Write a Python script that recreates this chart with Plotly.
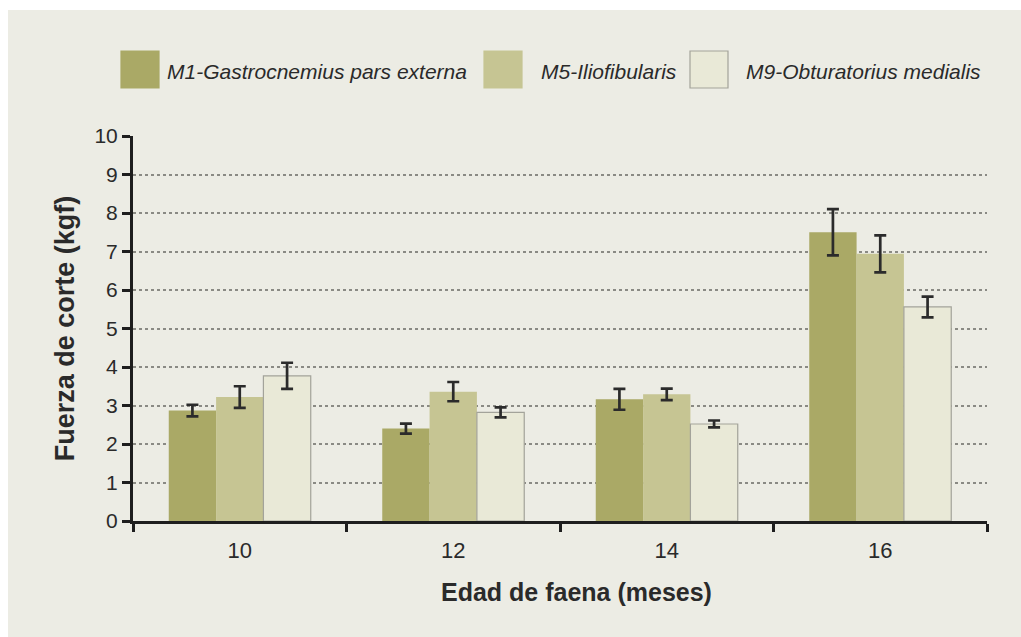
import plotly.graph_objects as go

categories = ["10", "12", "14", "16"]
series_names = ["M1-Gastrocnemius pars externa", "M5-Iliofibularis", "M9-Obturatorius medialis"]
m1_values = [2.87, 2.40, 3.16, 7.50]
m1_errors = [0.15, 0.13, 0.27, 0.60]
m5_values = [3.22, 3.36, 3.29, 6.94]
m5_errors = [0.28, 0.25, 0.15, 0.48]
m9_values = [3.77, 2.82, 2.52, 5.56]
m9_errors = [0.34, 0.13, 0.09, 0.27]
y_ticks = list(range(0, 11))
x_title = "Edad de faena (meses)"
y_title = "Fuerza de corte (kgf)"

colors = ["#aaa966", "#c6c593", "#e9e9d7"]
outline = [None, None, "#a3a39a"]
bg = "#ecece4"
FONT = "Liberation Sans, Arial, sans-serif"

W, H = 1021, 637
L, T = 133, 136
PW, PH = 854, 385
R = W - L - PW
B = H - T - PH

def px(x):
    return (x - L) / PW

def py(y):
    return (T + PH - y) / PH

fig = go.Figure()
for name, vals, errs, c, oc in zip(series_names, [m1_values, m5_values, m9_values],
                                   [m1_errors, m5_errors, m9_errors], colors, outline):
    fig.add_trace(go.Bar(
        x=categories, y=vals, name=name,
        marker=dict(color=c, line=dict(color=oc or c, width=1.2 if oc else 0)),
        error_y=dict(type="data", array=errs, visible=True, color="#2b2b2b",
                     thickness=2.7, width=6),
        showlegend=False,
    ))

shapes = [
    dict(type="rect", xref="paper", yref="paper", x0=px(8), x1=px(W + 5),
         y0=py(H + 5), y1=py(10), fillcolor=bg, line=dict(width=0), layer="below"),
]
annotations = []
legend_items = [(121, 165), (484, 539), (690, 744)]
for (sx, tx), name, c, oc in zip(legend_items, series_names, colors, outline):
    shapes.append(dict(type="rect", xref="paper", yref="paper",
                       x0=px(sx), x1=px(sx + 38), y0=py(88), y1=py(51),
                       fillcolor=c, line=dict(color=oc or c, width=1.2)))
    annotations.append(dict(xref="paper", yref="paper", x=px(tx), y=py(71),
                            xanchor="left", yanchor="middle", showarrow=False,
                            text="<i>" + name + "</i>",
                            font=dict(family=FONT, size=21, color="#2a2a2a")))
annotations.append(dict(xref="paper", yref="paper", x=px(576), y=py(592),
                        xanchor="center", yanchor="middle", showarrow=False,
                        text="<b>" + x_title + "</b>",
                        font=dict(family=FONT, size=25, color="#2a2a2a")))

fig.update_layout(
    width=W, height=H,
    margin=dict(l=L, r=R, t=T, b=B, autoexpand=False),
    paper_bgcolor="white", plot_bgcolor="rgba(0,0,0,0)",
    barmode="group", bargap=0.335, bargroupgap=0,
    shapes=shapes, annotations=annotations,
    font=dict(family=FONT, color="#2a2a2a"),
    xaxis=dict(
        type="category", showline=True, linecolor="#1e1e1e", linewidth=3,
        ticks="outside", tickson="boundaries", ticklen=8, tickwidth=3, tickcolor="#1e1e1e",
        tickfont=dict(size=22, color="#2a2a2a"), showgrid=False, ticklabelstandoff=8,
    ),
    yaxis=dict(
        range=[0, 10], tickvals=y_ticks, showline=True, linecolor="#1e1e1e", linewidth=3,
        ticks="outside", ticklen=8, tickwidth=3, tickcolor="#1e1e1e",
        tickfont=dict(size=21, color="#2a2a2a"),
        showgrid=True, gridcolor="#8a8a84", gridwidth=1.5, griddash="dot",
        zeroline=False,
        title=dict(text="<b>" + y_title + "</b>", font=dict(size=27, color="#2a2a2a"),
                   standoff=12),
    ),
)

fig.write_html(
    "out.html",
    config={"displayModeBar": False},
    post_script=(
        "document.documentElement.style.overflow='hidden';"
        "document.documentElement.style.background='" + bg + "';"
        "document.body.style.margin='0';"
        "document.body.style.overflow='hidden';"
        "document.body.style.background='" + bg + "';"
    ),
)
